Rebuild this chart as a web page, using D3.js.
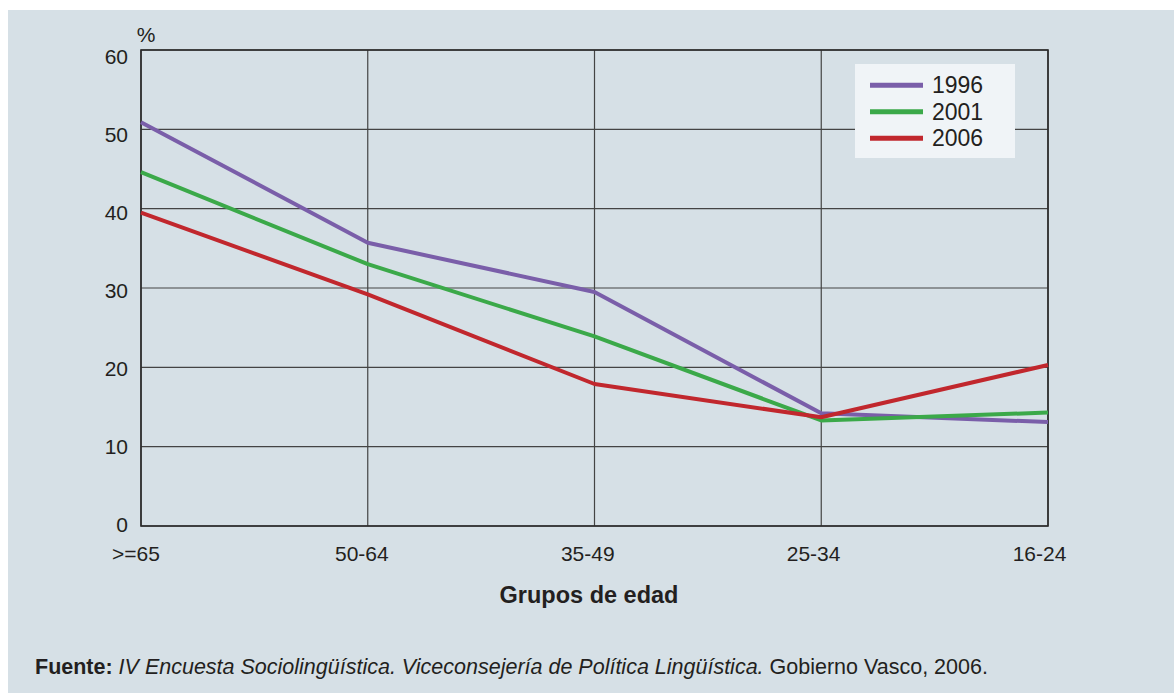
<!DOCTYPE html>
<html>
<head>
<meta charset="utf-8">
<script src="https://cdn.jsdelivr.net/npm/d3@7"></script>
<style>
  html, body { margin: 0; padding: 0; background: #ffffff; }
  svg { display: block; font-family: "Liberation Sans", Arial, sans-serif; }
</style>
</head>
<body>
<svg id="chart" width="1174" height="693"></svg>
<script>
const categories = [">=65", "50-64", "35-49", "25-34", "16-24"];
const years = ["1996", "2001", "2006"];
const values1996 = [50.9, 35.7, 29.5, 14.2, 13.1];
const values2001 = [44.6, 33.0, 23.9, 13.3, 14.3];
const values2006 = [39.5, 29.2, 17.9, 13.7, 20.3];
const yTicks = [0, 10, 20, 30, 40, 50, 60];
const seriesColors = ["#7a5ea9", "#3ba949", "#c1272d"];

(function () {
const series = years.map((yr, i) => ({
  name: yr,
  values: [values1996, values2001, values2006][i],
  color: seriesColors[i]
}));

const svg = d3.select("#chart");
svg.append("rect").attr("x", 8).attr("y", 10).attr("width", 1166).attr("height", 683).attr("fill", "#d6e0e6");

const pLeft = 141, pRight = 1048, pTop = 50, pBottom = 526;
const x = d3.scalePoint().domain(categories).range([pLeft, pRight]);
const y = d3.scaleLinear().domain([0, 60]).range([pBottom, pTop]);
// label positions in the original drift slightly from the grid
const yLab = d3.scaleLinear().domain([0, 60]).range([525, 56.5]);
const xLab = d3.scalePoint().domain(categories).range([135.5, 1039]);

// horizontal grid
svg.append("g").selectAll("line").data(yTicks).join("line")
  .attr("x1", pLeft).attr("x2", pRight)
  .attr("y1", d => y(d)).attr("y2", d => y(d))
  .attr("stroke", "#444").attr("stroke-width", 1.2);
// vertical grid
svg.append("g").selectAll("line").data(categories).join("line")
  .attr("x1", d => x(d)).attr("x2", d => x(d))
  .attr("y1", pTop).attr("y2", pBottom)
  .attr("stroke", "#444").attr("stroke-width", 1.2);
// frame
svg.append("rect").attr("x", pLeft).attr("y", pTop).attr("width", pRight - pLeft).attr("height", pBottom - pTop)
  .attr("fill", "none").attr("stroke", "#2b2b2b").attr("stroke-width", 1.6);

// y axis labels
const yAxis = d3.axisLeft(yLab).tickValues(yTicks).tickSize(0).tickPadding(13);
const gy = svg.append("g").attr("transform", `translate(${pLeft},0)`).call(yAxis);
gy.select(".domain").remove();
gy.selectAll("text").attr("font-size", 21).attr("fill", "#231f20").attr("font-family", "Liberation Sans, Arial, sans-serif");

svg.append("text").attr("x", 146).attr("y", 41.5).attr("text-anchor", "middle")
  .attr("font-size", 21).attr("fill", "#231f20").text("%");

// x axis labels
const xAxis = d3.axisBottom(xLab).tickSize(0).tickPadding(20);
const gx = svg.append("g").attr("transform", `translate(0,${pBottom})`).call(xAxis);
gx.select(".domain").remove();
gx.selectAll("text").attr("font-size", 21).attr("fill", "#231f20").attr("font-family", "Liberation Sans, Arial, sans-serif");

svg.append("text").attr("x", 589).attr("y", 603).attr("text-anchor", "middle")
  .attr("font-size", 23.5).attr("font-weight", "bold").attr("fill", "#231f20").text("Grupos de edad");

// lines
const line = d3.line().x((d, i) => x(categories[i])).y(d => y(d));
svg.append("g").selectAll("path").data(series).join("path")
  .attr("d", d => line(d.values))
  .attr("fill", "none").attr("stroke", d => d.color).attr("stroke-width", 4)
  .attr("stroke-linejoin", "round");

// legend
const lg = svg.append("g");
lg.append("rect").attr("x", 855).attr("y", 64).attr("width", 160).attr("height", 94).attr("fill", "#f0f4f7");
series.forEach((s, i) => {
  const yy = 85.3 + i * 26.5;
  lg.append("line").attr("x1", 870).attr("x2", 923).attr("y1", yy).attr("y2", yy)
    .attr("stroke", s.color).attr("stroke-width", 5);
  lg.append("text").attr("x", 932).attr("y", yy + 8).attr("font-size", 23).attr("fill", "#231f20").text(s.name);
});

// source
const src = svg.append("text").attr("x", 35).attr("y", 674).attr("font-size", 21.5).attr("fill", "#231f20");
src.append("tspan").attr("font-weight", "bold").text("Fuente: ");
src.append("tspan").attr("font-style", "italic").text("IV Encuesta Sociolingüística. Viceconsejería de Política Lingüística.");
src.append("tspan").text(" Gobierno Vasco, 2006.");
})();
</script>
</body>
</html>
